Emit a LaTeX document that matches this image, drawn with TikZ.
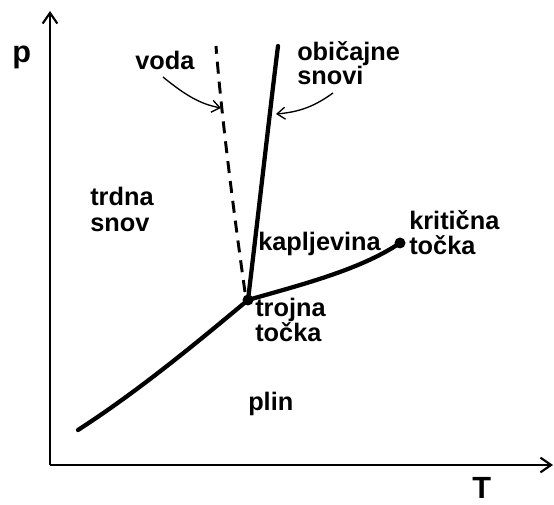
\documentclass[tikz,border=0pt]{standalone}
\usepackage{fontspec}
\setmainfont{Liberation Sans}
\usepackage{tikz}
\usetikzlibrary{arrows,arrows.meta,positioning,calc}

\begin{document}
\begin{tikzpicture}[x=0.75pt, y=-0.75pt,
  lbl/.style={font=\bfseries\fontsize{19}{17}\selectfont, align=left, inner sep=0pt, anchor=base west},
  biglbl/.style={font=\bfseries\fontsize{23}{24}\selectfont, inner sep=0pt, anchor=base west},
  axis/.style={-{Straight Barb[length=8pt, width=11pt, line width=1.6pt]}, line width=2pt},
  phase/.style={line width=3.2pt, line cap=round},
  pointer/.style={-{Straight Barb[length=6pt, width=9pt]}, line width=1pt}
]
\useasboundingbox (0,0) rectangle (554,505);
% axes
\coordinate (o) at (50,465);
\coordinate (ptop) at (50,11);
\coordinate (tend) at (553,465);
\draw[axis] (o) -- (ptop);
\draw[axis] (o) -- (tend);
\node[biglbl] (p) at (12,63) {p};
\node[biglbl] (T) at (472,499) {T};
% phase boundaries
\coordinate (start) at (78,430);
\coordinate (trojna) at (248,300);
\coordinate (krit) at (400,243);
\coordinate (top) at (278,46);
\coordinate (wtop) at (216,46);
\draw[phase] (start) .. controls (140,390) and (200,340) .. (trojna);
\draw[phase] (trojna) .. controls (300,285) and (360,270) .. (krit);
\draw[phase] (trojna) .. controls (260,200) and (270,110) .. (top);
\draw[line width=2.2pt, dash pattern=on 9pt off 6pt] (245,292) .. controls (232,200) and (221,110) .. (wtop);
\fill (trojna) circle (5.5);
\fill (krit) circle (5.5);
% labels (base = last line)
\node[lbl] (voda) at (135,70) {voda};
\node[lbl] (obicajne) at (297,85) {običajne\\snovi};
\node[lbl] (trdna) at (90,232) {trdna\\[3pt]snov};
\node[lbl] (kaplj) at (258,251) {kapljevina};
\node[lbl] (kriticna) at (409,255) {kritična\\[2pt]točka};
\node[lbl] (trojnalbl) at (255,342) {trojna\\točka};
\node[lbl] (plin) at (248,411) {plin};
% pointers
\coordinate (vodahit) at (221,108);
\coordinate (snovihit) at (276,114);
\draw[pointer] (163,77) .. controls (185,95) and (200,104) .. (vodahit);
\draw[pointer] (333,93) .. controls (315,106) and (300,112) .. (snovihit);
\end{tikzpicture}
\end{document}
